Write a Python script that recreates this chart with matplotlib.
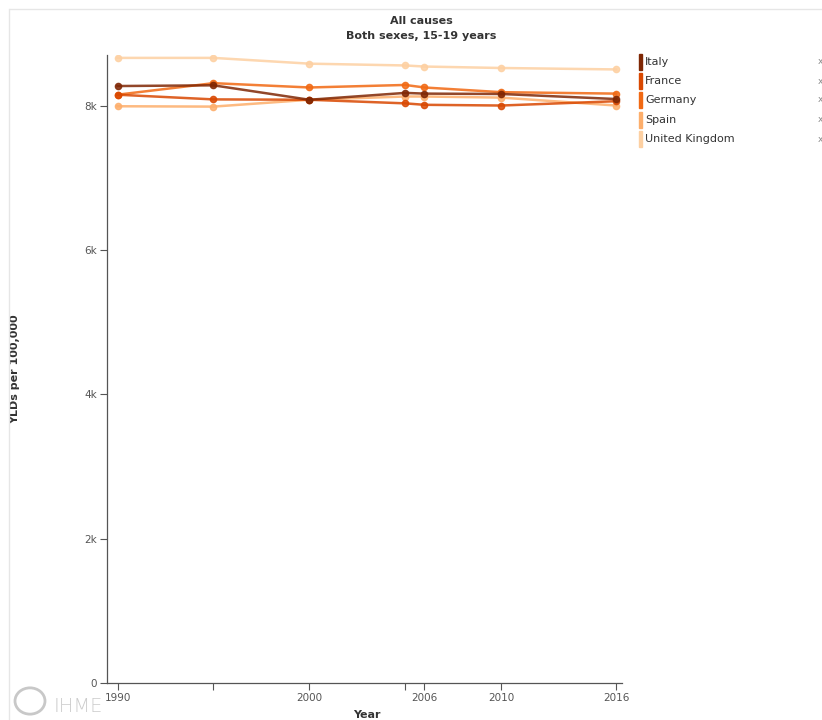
import matplotlib
matplotlib.use("Agg")
import matplotlib.pyplot as plt
from matplotlib.patches import Rectangle, Circle

years = [1990, 1995, 2000, 2005, 2006, 2010, 2016]
countries = ["Italy", "France", "Germany", "Spain", "United Kingdom"]
italy = [8270, 8280, 8080, 8175, 8165, 8160, 8090]
france = [8150, 8085, 8080, 8030, 8010, 8000, 8060]
germany = [8150, 8310, 8250, 8285, 8250, 8185, 8165]
spain = [7990, 7985, 8080, 8125, 8125, 8110, 8000]
uk = [8660, 8660, 8580, 8555, 8540, 8520, 8500]
series = [italy, france, germany, spain, uk]
colors = ["#7f2704", "#d94801", "#f16913", "#fdae6b", "#fdd0a2"]
yticks = [0, 2000, 4000, 6000, 8000]
ytick_labels = ["0", "2k", "4k", "6k", "8k"]
xticks = [1990, 1995, 2000, 2005, 2006, 2010, 2016]
xtick_labels = ["1990", "", "2000", "", "2006", "2010", "2016"]

W, H = 822, 720
fig = plt.figure(figsize=(W / 100, H / 100), dpi=100)
ax = fig.add_axes([107 / W, 1 - 683 / H, (622 - 107) / W, (683 - 55) / H])

for vals, col in reversed(list(zip(series, colors))):
    ax.plot(years, vals, color=col, lw=1.8, marker="o", ms=4.5, alpha=0.85,
            solid_joinstyle="round", zorder=3)

ax.set_xlim(1989.45, 2016.3)
ax.set_ylim(0, 8700)
ax.set_yticks(yticks)
ax.set_yticklabels(ytick_labels)
ax.set_xticks(xticks)
ax.set_xticklabels(xtick_labels)
for s in ["top", "right"]:
    ax.spines[s].set_visible(False)
for s in ["left", "bottom"]:
    ax.spines[s].set_color("#555555")
    ax.spines[s].set_linewidth(0.9)
ax.tick_params(axis="both", colors="#555555", labelcolor="#555555",
               labelsize=7.5, length=5, width=0.8, direction="out")
ax.tick_params(axis="y", pad=2)
ax.tick_params(axis="x", pad=2)

ax.set_ylabel("YLDs per 100,000", fontsize=8, fontweight="bold", color="#333333", labelpad=0)
ax.yaxis.set_label_coords((20 - 107) / (622 - 107), 0.5)
ax.set_xlabel("Year", fontsize=8, fontweight="bold", color="#333333", labelpad=0)
ax.xaxis.set_label_coords((367 - 107) / (622 - 107), -0.043)

fig.text(421 / W, 1 - 21 / H, "All causes", ha="center", va="center",
         fontsize=8, fontweight="bold", color="#333333")
fig.text(421 / W, 1 - 36 / H, "Both sexes, 15-19 years", ha="center", va="center",
         fontsize=8, fontweight="bold", color="#333333")

# legend
leg_y = [62, 81, 100, 120, 139]
for name, col, yy in zip(countries, colors, leg_y):
    fig.patches.append(Rectangle((639 / W, 1 - (yy + 8) / H), 3 / W, 16 / H,
                                 transform=fig.transFigure, color=col))
    fig.text(645 / W, 1 - yy / H, name, ha="left", va="center", fontsize=8, color="#333333")
    fig.text(818 / W, 1 - yy / H, "x", ha="left", va="center", fontsize=6.5, color="#888888")

# frame
fig.add_artist(plt.Line2D([10 / W, 1], [1 - 9 / H, 1 - 9 / H], transform=fig.transFigure,
                          color="#e6e6e6", lw=1))
fig.add_artist(plt.Line2D([9 / W, 9 / W], [0, 1 - 9 / H], transform=fig.transFigure,
                          color="#e6e6e6", lw=1))

# IHME logo
fig.patches.append(Circle((30 / W, 1 - 701 / H), 15 / W, transform=fig.transFigure,
                          fill=False, ec="#c8c8c8", lw=2))
fig.text(54 / W, 1 - 706 / H, "IHME", ha="left", va="center", fontsize=14,
         color="#cccccc", fontweight="light")

fig.savefig("out.png", dpi=100)
